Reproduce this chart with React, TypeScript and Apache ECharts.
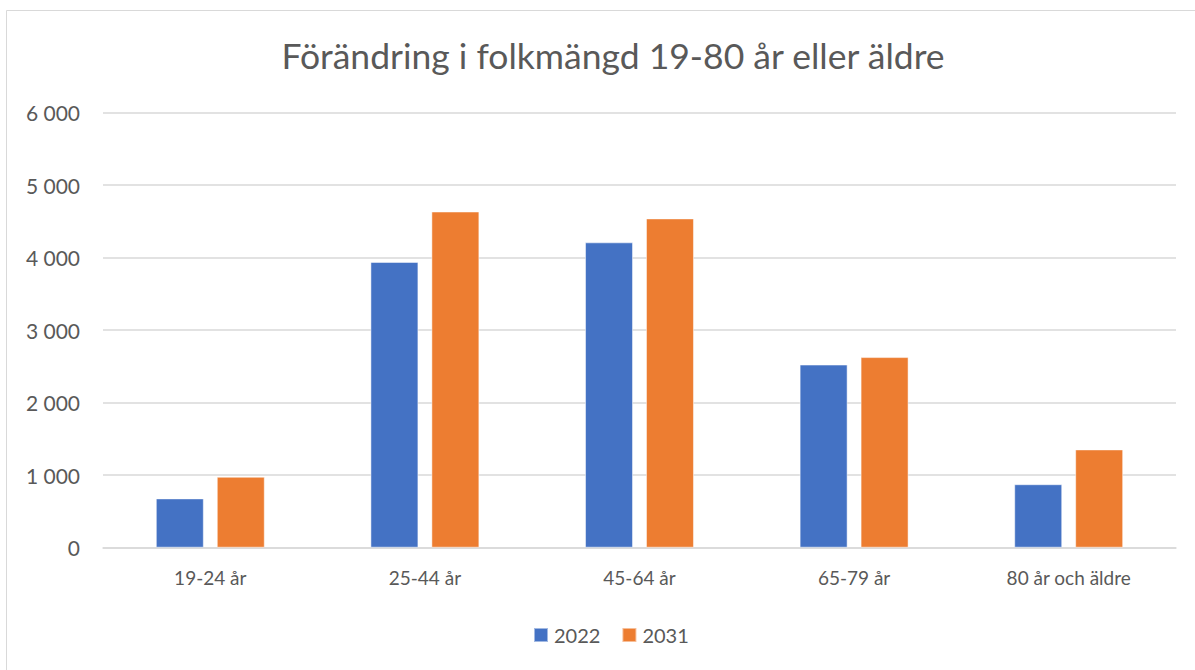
import React, { useEffect, useRef } from "react";
import * as echarts from "echarts";

const title = "Förändring i folkmängd 19-80 år eller äldre";
const categories = ["19-24 år", "25-44 år", "45-64 år", "65-79 år", "80 år och äldre"];
const seriesNames = ["2022", "2031"];
const values2022 = [680, 3940, 4210, 2525, 875];
const values2031 = [978, 4635, 4540, 2628, 1355];
const colors = ["#4472C4", "#ED7D31"];

const FONT = "Lato, 'Open Sans', sans-serif";

function formatThousands(v: number): string {
  const s = String(Math.round(v));
  return s.replace(/\B(?=(\d{3})+(?!\d))/g, " ");
}

export default function App() {
  const ref = useRef<HTMLDivElement>(null);
  useEffect(() => {
    if (!ref.current) return;
    const chart = echarts.init(ref.current, null, { renderer: "svg" });
    chart.setOption({
      animation: false,
      backgroundColor: "#ffffff",
      title: {
        text: title,
        left: 608,
        top: 32,
        textAlign: "center",
        textStyle: { fontFamily: FONT, fontSize: 35.5, fontWeight: "normal", color: "#595959" },
      },
      graphic: [
        {
          type: "rect",
          shape: { x: 6.5, y: 10.5, width: 1195, height: 680 },
          style: { fill: "none", stroke: "#d9d9d9", lineWidth: 1 },
          silent: true,
        },
      ],
      legend: {
        data: seriesNames,
        left: 528,
        top: 620,
        itemWidth: 14,
        itemHeight: 14,
        itemGap: 21,
        icon: "rect",
        textStyle: { fontFamily: FONT, fontSize: 20, color: "#595959", padding: [0, 0, 0, 1] },
      },
      grid: { left: 103, right: 19, top: 112.5, bottom: 122.3, containLabel: false },
      xAxis: {
        type: "category",
        data: categories,
        axisLine: { show: true, lineStyle: { color: "#d9d9d9", width: 1.5 } },
        axisTick: { show: false },
        axisLabel: { fontFamily: FONT, fontSize: 19, color: "#595959", margin: 20 },
      },
      yAxis: {
        type: "value",
        min: 0,
        max: 6000,
        interval: 1000,
        axisLine: { show: false },
        axisTick: { show: false },
        splitLine: { lineStyle: { color: "#d9d9d9", width: 1.5 } },
        axisLabel: {
          fontFamily: FONT,
          fontSize: 21,
          color: "#595959",
          margin: 23,
          formatter: (v: number) => formatThousands(v),
        },
      },
      series: [
        {
          name: seriesNames[0],
          type: "bar",
          data: values2022,
          barWidth: 48,
          barGap: "27%",
          itemStyle: { color: colors[0], borderColor: "rgba(255,255,255,0.5)", borderWidth: 1 },
        },
        {
          name: seriesNames[1],
          type: "bar",
          data: values2031,
          barWidth: 48,
          barGap: "27%",
          itemStyle: { color: colors[1], borderColor: "rgba(255,255,255,0.5)", borderWidth: 1 },
        },
      ],
    });
    return () => chart.dispose();
  }, []);
  return (
    <div
      ref={ref}
      style={{ position: "absolute", left: 0, top: 0, width: 1195, height: 670 }}
    />
  );
}
